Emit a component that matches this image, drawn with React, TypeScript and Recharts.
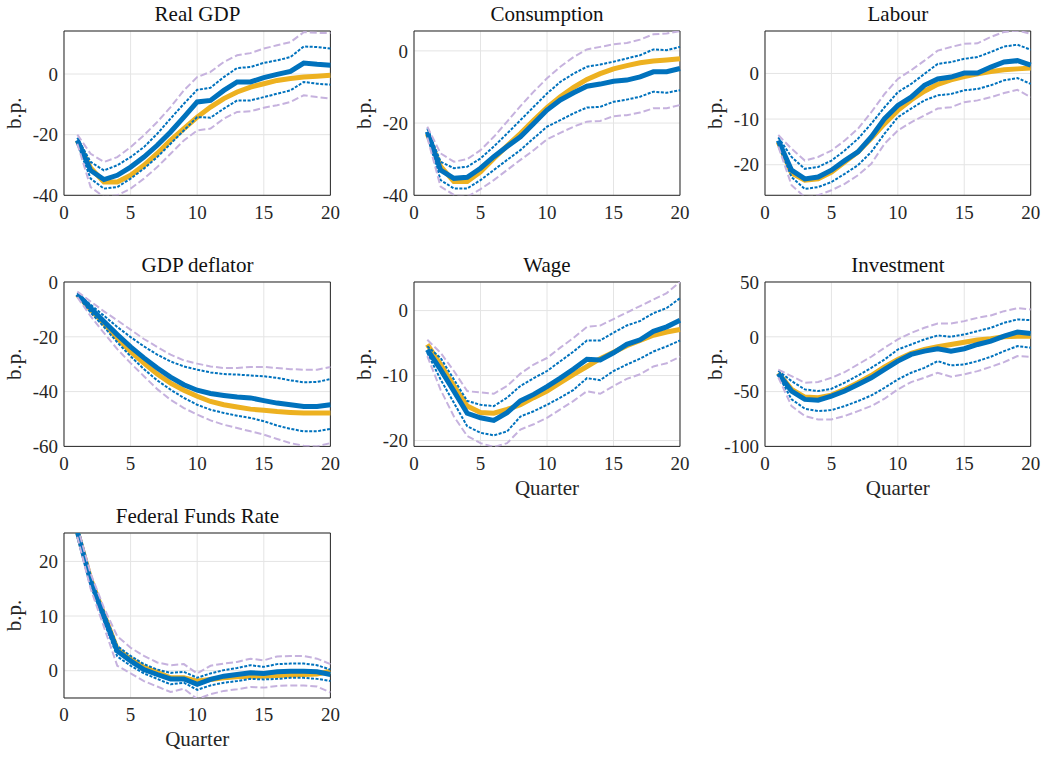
import React from 'react'
import { LineChart, Line, XAxis, YAxis, CartesianGrid, ReferenceArea } from 'recharts'

const quarters = [1, 2, 3, 4, 5, 6, 7, 8, 9, 10, 11, 12, 13, 14, 15, 16, 17, 18, 19, 20]
const xTicks = [0, 5, 10, 15, 20]

// Real GDP
const gdpModel = [-22, -31, -35.6, -35.6, -33.4, -30.1, -26.2, -21.9, -18, -14.2, -10.9, -8.1, -5.9, -4.3, -3.2, -2.1, -1.5, -1, -0.7, -0.4]
const gdpMed = [-21.8, -31.8, -34.8, -33.4, -30.7, -27.4, -23.5, -19.1, -14.2, -9.2, -8.7, -5.4, -2.6, -2.6, -1.2, -0.1, 0.9, 3.6, 3.2, 2.9]
const gdpHi68 = [-21, -29, -31.8, -30.1, -27.4, -24.1, -19.7, -14.7, -9.8, -5.2, -4.5, -1, 2, 2.3, 3.7, 4.5, 5.6, 9.1, 8.9, 8.4]
const gdpLo68 = [-23, -34.5, -37.8, -37.3, -34.5, -31.2, -27.4, -23, -18.6, -14.2, -14.4, -11.4, -8.7, -8.7, -7.6, -6.5, -5.4, -2.6, -3.2, -3.5]
const gdpHi90 = [-20, -26.3, -29, -27.4, -24.1, -20.2, -15.8, -10.9, -5.4, -1, 0.7, 4, 6.2, 6.9, 8.4, 9.5, 10.5, 13.8, 13.6, 13.5]
const gdpLo90 = [-23, -37.3, -40.5, -40, -37.8, -34.5, -30.7, -26.3, -21.9, -18.6, -18, -14.7, -12.5, -12.3, -11.1, -10.3, -9.2, -7, -7.6, -8.1]

// Consumption
const conModel = [-23, -32, -36.2, -36.2, -33.5, -29.8, -26.3, -22.9, -19.2, -15.7, -12.7, -10.1, -7.9, -6.3, -5, -4.1, -3.3, -2.8, -2.5, -2.2]
const conMed = [-22.4, -33, -35.3, -35, -32.5, -29.3, -26.5, -23.8, -20.1, -16.4, -13.6, -11.6, -9.8, -9.2, -8.4, -8.1, -7.2, -5.8, -5.8, -4.9]
const conHi68 = [-21.5, -30.7, -32.5, -32.1, -29.8, -26.5, -22.9, -19.2, -15.5, -11.8, -8.6, -6.3, -4.4, -3.8, -3, -2.1, -1.2, 0.4, 0.2, 1.1]
const conLo68 = [-23.5, -35.8, -38.1, -38.1, -35.8, -33, -30.2, -27.5, -24.2, -21, -19.2, -17.3, -15.7, -15.5, -14.1, -13.5, -12.7, -11.3, -11.6, -10.9]
const conHi90 = [-21, -28.4, -30.7, -30, -27.5, -23.8, -19.6, -15.3, -11.3, -7.6, -4.4, -1.7, 0.4, 1.1, 1.8, 2.2, 3.1, 4.6, 4.8, 5.5]
const conLo90 = [-24, -37.6, -39.9, -40.4, -38.3, -35.8, -33, -30.2, -27.5, -24.5, -22.7, -21, -19.6, -19.4, -18.1, -17.8, -17.1, -15.9, -15.9, -15]

// Labour
const labModel = [-15, -21.8, -23.4, -23.1, -21.6, -19.4, -17.2, -14.2, -11, -8.1, -5.8, -3.9, -2.4, -1.4, -0.7, -0.1, 0.4, 0.8, 1, 1.2]
const labMed = [-14.7, -21.2, -23.1, -22.7, -21.2, -19.1, -17.2, -13.9, -9.9, -7, -5.2, -2.6, -1.2, -0.8, 0.1, 0.1, 1.4, 2.5, 2.8, 1.8]
const labHi68 = [-14, -18.3, -20.9, -20.5, -19.1, -16.9, -14.3, -11, -7.4, -4.1, -2.3, -0.1, 2.1, 2.5, 3.2, 3.6, 4.7, 5.9, 6.3, 5.2]
const labLo68 = [-15.5, -22.7, -25.3, -24.9, -23.8, -22, -20.1, -17.2, -13.2, -9.6, -7.7, -5.9, -4.8, -4.5, -3.7, -3.4, -2.6, -1.5, -1, -2.3]
const labHi90 = [-13.5, -16.5, -19.1, -18.3, -16.9, -14.7, -12.1, -8.5, -4.5, -1.2, 0.7, 2.8, 5, 5.8, 6.5, 6.6, 8, 9.1, 9.4, 8.7]
const labLo90 = [-16, -24.5, -27.1, -26.7, -25.6, -24.2, -22.3, -19.8, -15.4, -12.5, -10.7, -9.2, -7.7, -7.4, -6.3, -5.9, -5.2, -4.3, -3.6, -5.2]

// GDP deflator
const defModel = [-4.6, -10.1, -15.2, -20.4, -25.3, -29.6, -33.6, -36.9, -39.5, -41.7, -43.6, -44.8, -45.6, -46.4, -46.8, -47.3, -47.6, -47.8, -47.8, -47.8]
const defMed = [-4.4, -9.5, -14.4, -19.2, -23.7, -27.7, -31.4, -34.7, -37.5, -39.5, -40.7, -41.4, -42, -42.3, -43.3, -44.2, -44.8, -45.4, -45.4, -44.8]
const defHi68 = [-4, -8.3, -12.3, -16.4, -20.1, -23.5, -26.5, -29, -30.8, -32, -33, -33.6, -33.8, -34.1, -34.4, -35, -35.9, -36.6, -36.5, -35.4]
const defLo68 = [-5, -11.1, -16.4, -22, -27.1, -31.8, -35.9, -39.3, -42.3, -44.8, -46.6, -47.8, -48.8, -49.6, -50.8, -52.4, -53.6, -54.5, -54.5, -53.6]
const defHi90 = [-3.5, -7.1, -10.7, -14, -17.4, -20.8, -23.7, -26.5, -28.6, -29.8, -30.8, -31.4, -31.4, -31, -31, -31.4, -31.8, -32, -32, -31]
const defLo90 = [-5.5, -12.5, -18.6, -24.5, -29.6, -34.4, -39.1, -43, -46, -48.4, -50.5, -52.1, -53.3, -54.5, -55.7, -57.3, -58.8, -59.8, -60, -58.8]

// Wage
const wagModel = [-5.2, -8.3, -11.6, -14.7, -15.7, -15.8, -15.2, -14.5, -13.4, -12.4, -11.1, -9.8, -8.6, -7.4, -6.4, -5.4, -4.6, -3.8, -3.3, -2.9]
const wagMed = [-6, -9.1, -12.4, -15.8, -16.5, -16.9, -15.7, -13.9, -12.9, -11.7, -10.4, -9, -7.5, -7.6, -6.5, -5.2, -4.5, -3.2, -2.5, -1.5]
const wagHi68 = [-5.5, -7.3, -10.6, -13.9, -14.5, -14.7, -13.4, -11.6, -10.4, -9.3, -7.8, -6.3, -4.6, -4.6, -3.4, -2.3, -1.6, -0.4, 0.4, 1.9]
const wagLo68 = [-6.5, -10.6, -14.2, -17.8, -18.8, -19.2, -18.6, -16.3, -15.5, -14.5, -13.4, -12.2, -10.4, -10.7, -9.3, -8.3, -7.4, -6.3, -5.5, -4.6]
const wagHi90 = [-4.5, -6.5, -9.3, -12.4, -12.6, -12.8, -11.6, -9.7, -8.3, -7.3, -5.7, -4.2, -2.5, -2.3, -1.3, -0.3, 0.7, 1.7, 2.7, 4.4]
const wagLo90 = [-7, -12.2, -16.3, -19.3, -20.4, -21, -20.4, -18.3, -17.5, -16.5, -15.2, -13.9, -12.4, -12.8, -11.6, -10.5, -9.8, -8.6, -8.1, -7.1]

// Investment
const invModel = [-33, -48, -55, -55.6, -53.2, -48, -41.9, -35.3, -27.4, -20.7, -15.2, -11.6, -9.1, -7, -4.9, -3, -1.8, 0, 0.6, 0.6]
const invMed = [-33.4, -49.5, -57.1, -57.8, -54.1, -49.5, -43.5, -37.4, -29.8, -22.2, -16.1, -13.1, -10.9, -13.1, -10.9, -7, -4, 0.6, 4.3, 3]
const invHi68 = [-31, -40.4, -48, -49.5, -47.4, -41.9, -35.3, -28.3, -20.7, -11.6, -7, -2.4, 1.2, 0, 2.1, 5.2, 8.2, 12.8, 15.8, 15.2]
const invLo68 = [-35, -57, -65.6, -67.8, -66.9, -63.2, -58.7, -53.5, -46.5, -38.9, -32.8, -28.3, -22.2, -26.1, -25.2, -22.2, -18.2, -13.1, -8.5, -10]
const invHi90 = [-30, -35.9, -41.9, -41.3, -37.4, -32.2, -25.2, -18.2, -10, -2.4, 3.6, 8.2, 12.2, 12.2, 14.3, 17.3, 19.5, 23.4, 26.1, 24.9]
const invLo90 = [-37, -63.2, -72.3, -75.4, -75.4, -72.3, -67.8, -63.2, -56.5, -48, -41.3, -37.4, -32.8, -36.5, -34.3, -31.3, -27.4, -23.1, -17.6, -18.2]

// Federal Funds Rate
const ffrModel = [25.5, 16.8, 10.3, 3.9, 2.1, 0.6, -0.3, -1.3, -1.3, -1.9, -1.6, -1.3, -1.1, -1, -1, -0.9, -0.8, -0.7, -0.6, -0.1]
const ffrMed = [25.5, 16.4, 9.9, 3.6, 1.8, 0.2, -0.7, -1.5, -1.5, -2.5, -1.6, -1, -0.7, -0.4, -0.5, -0.2, -0.1, -0.1, -0.2, -0.7]
const ffrHi68 = [26, 17, 10.8, 4.5, 2.7, 1.2, 0.2, -0.4, -0.2, -1.3, -0.5, 0.1, 0.5, 1, 0.7, 1.2, 1.3, 1.3, 1, 0.2]
const ffrLo68 = [25, 15.8, 9, 2.6, 0.9, -0.5, -1.5, -2.5, -2.2, -3.5, -2.7, -2.2, -1.9, -1.5, -1.6, -1.5, -1.3, -1.3, -1.5, -1.9]
const ffrHi90 = [26.5, 17.8, 11.5, 6.3, 4.2, 2.7, 1.5, 1, 1.2, -0.5, 0.9, 1.3, 1.6, 2.2, 1.9, 2.6, 2.7, 2.7, 2.2, 1.2]
const ffrLo90 = [24.5, 15, 8, 0.9, -0.5, -1.9, -2.9, -3.9, -3.3, -5.2, -4.3, -3.7, -3.4, -3, -3.1, -2.8, -2.7, -2.7, -2.9, -4]

const BLUE = '#0072BD'
const ORANGE = '#EDB120'
const PURPLE = '#c6b2de'
const AXIS = '#262626'

const rows = (model: number[], med: number[], hi68: number[], lo68: number[], hi90: number[], lo90: number[]) =>
  quarters.map((q, i) => ({ q, model: model[i], med: med[i], hi68: hi68[i], lo68: lo68[i], hi90: hi90[i], lo90: lo90[i] }))

type PanelProps = {
  title: string
  data: any[]
  domain: [number, number]
  ticks: number[]
  box: [number, number, number, number]
  xLabel?: boolean
}

const Panel = ({ title, data, domain, ticks, box, xLabel }: PanelProps) => {
  const [x0, y0, x1, y1] = box
  const w = x1 - x0 + 110
  const h = y1 - y0 + 35 + 82
  const tickStyle = { fontSize: 19, fill: AXIS }
  return (
    <>
      <div
        style={{
          position: 'absolute', left: x0 - 20, width: x1 - x0 + 40, top: y0 - 27, textAlign: 'center',
          fontSize: 21, lineHeight: '21px', color: '#111', whiteSpace: 'nowrap',
        }}
      >
        {title}
      </div>
      <div style={{ position: 'absolute', left: x0 - 100, top: y0 - 35 }}>
        <LineChart width={w} height={h} data={data} margin={{ top: 35, right: 10, bottom: 0, left: 0 }}>
          <CartesianGrid stroke="#e4e4e4" strokeWidth={1} />
          <XAxis
            dataKey="q" type="number" domain={[0, 20]} ticks={xTicks} height={82}
            axisLine={false} tickLine={false} tickSize={5} tickMargin={5} tick={tickStyle}
            label={xLabel ? { value: 'Quarter', position: 'center', fontSize: 21, fill: AXIS } : undefined}
          />
          <YAxis
            type="number" domain={domain} ticks={ticks} width={100} allowDataOverflow
            axisLine={false} tickLine={false} tickSize={3} tickMargin={3} tick={tickStyle}
            label={{ value: 'b.p.', angle: -90, position: 'center', fontSize: 21, fill: AXIS }}
          />
          <Line type="linear" dataKey="model" stroke={ORANGE} strokeWidth={5} dot={false} isAnimationActive={false} />
          <Line type="linear" dataKey="med" stroke={BLUE} strokeWidth={5} dot={false} isAnimationActive={false} />
          <Line type="linear" dataKey="hi68" stroke={BLUE} strokeWidth={2} strokeDasharray="3 1.5" dot={false} isAnimationActive={false} />
          <Line type="linear" dataKey="lo68" stroke={BLUE} strokeWidth={2} strokeDasharray="3 1.5" dot={false} isAnimationActive={false} />
          <Line type="linear" dataKey="hi90" stroke={PURPLE} strokeWidth={2} strokeDasharray="7 3" dot={false} isAnimationActive={false} />
          <Line type="linear" dataKey="lo90" stroke={PURPLE} strokeWidth={2} strokeDasharray="7 3" dot={false} isAnimationActive={false} />
          <ReferenceArea x1={0} x2={20} y1={domain[0]} y2={domain[1]} fill="none" stroke={AXIS} strokeWidth={1} fillOpacity={0} />
        </LineChart>
      </div>
    </>
  )
}

export default function App() {
  return (
    <div
      style={{
        position: 'absolute', left: 0, top: 0, width: 1045, height: 757, overflow: 'hidden',
        background: '#fff', fontFamily: '"Liberation Serif", "DejaVu Serif", serif',
      }}
    >
      <Panel title="Real GDP" data={rows(gdpModel, gdpMed, gdpHi68, gdpLo68, gdpHi90, gdpLo90)} domain={[-40, 14.2]} ticks={[-40, -20, 0]} box={[64.3, 30.7, 330.7, 195]} />
      <Panel title="Consumption" data={rows(conModel, conMed, conHi68, conLo68, conHi90, conLo90)} domain={[-40, 5.5]} ticks={[-40, -20, 0]} box={[414, 30.7, 680, 195]} />
      <Panel title="Labour" data={rows(labModel, labMed, labHi68, labLo68, labHi90, labLo90)} domain={[-26.7, 9.3]} ticks={[-20, -10, 0]} box={[765, 30.7, 1030.7, 195]} />
      <Panel title="GDP deflator" data={rows(defModel, defMed, defHi68, defLo68, defHi90, defLo90)} domain={[-60, 0]} ticks={[-60, -40, -20, 0]} box={[64.3, 282.3, 330.7, 446.7]} />
      <Panel title="Wage" data={rows(wagModel, wagMed, wagHi68, wagLo68, wagHi90, wagLo90)} domain={[-20.9, 4.4]} ticks={[-20, -10, 0]} box={[414, 282.3, 680, 446.7]} xLabel />
      <Panel title="Investment" data={rows(invModel, invMed, invHi68, invLo68, invHi90, invLo90)} domain={[-100, 50]} ticks={[-100, -50, 0, 50]} box={[765, 282.3, 1030.7, 446.7]} xLabel />
      <Panel title="Federal Funds Rate" data={rows(ffrModel, ffrMed, ffrHi68, ffrLo68, ffrHi90, ffrLo90)} domain={[-5, 25.2]} ticks={[0, 10, 20]} box={[64.3, 533.3, 330.7, 698.3]} xLabel />
    </div>
  )
}
